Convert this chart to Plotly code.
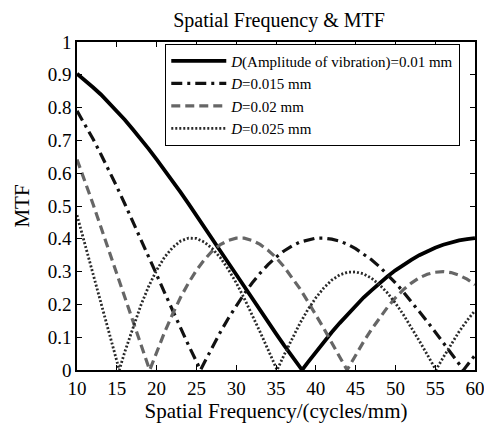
import plotly.graph_objects as go

# Spatial frequency (cycles/mm) and MTF values
f_d010 = [10, 11, 12, 13, 14, 15, 16, 17, 18, 19, 20, 21, 22, 23, 24, 25, 26, 27, 28, 29, 30,
          31, 32, 33, 34, 35, 36, 37, 38, 38.28, 39, 40, 41, 42, 43, 44, 45, 46, 47, 48, 49, 50,
          51, 52, 53, 54, 55, 56, 57, 58, 59, 60]
mtf_d010 = [0.903, 0.884, 0.862, 0.840, 0.815, 0.790, 0.763, 0.734, 0.705, 0.674, 0.642, 0.610,
            0.576, 0.542, 0.507, 0.472, 0.436, 0.400, 0.364, 0.327, 0.291, 0.254, 0.218, 0.182,
            0.146, 0.111, 0.076, 0.042, 0.009, 0.0, 0.023, 0.055, 0.085, 0.115, 0.143, 0.170,
            0.196, 0.221, 0.243, 0.265, 0.285, 0.304, 0.321, 0.336, 0.350, 0.363, 0.373, 0.382,
            0.390, 0.395, 0.399, 0.402]

f_d015 = [10, 11, 12, 13, 14, 15, 16, 17, 18, 19, 20, 21, 22, 23, 24, 25, 25.52, 26, 27, 28, 29,
          30, 31, 32, 33, 34, 35, 36, 37, 38, 39, 40, 41, 42, 43, 44, 45, 46, 47, 48, 49, 50,
          51, 52, 53, 54, 55, 56, 57, 58, 58.57, 59, 60]
mtf_d015 = [0.790, 0.749, 0.705, 0.658, 0.610, 0.559, 0.507, 0.454, 0.400, 0.345, 0.291, 0.236,
            0.182, 0.128, 0.076, 0.026, 0.0, 0.023, 0.070, 0.115, 0.157, 0.196, 0.232, 0.265,
            0.295, 0.321, 0.344, 0.363, 0.378, 0.390, 0.397, 0.402, 0.402, 0.399, 0.393, 0.383,
            0.370, 0.354, 0.336, 0.315, 0.291, 0.266, 0.238, 0.209, 0.179, 0.148, 0.116, 0.083,
            0.051, 0.018, 0.0, 0.014, 0.045]

f_d020 = [10, 11, 12, 13, 14, 15, 16, 17, 18, 19, 19.14, 20, 21, 22, 23, 24, 25, 26, 27, 28, 29,
          30, 31, 32, 33, 34, 35, 36, 37, 38, 39, 40, 41, 42, 43, 43.93, 44, 45, 46, 47, 48, 49,
          50, 51, 52, 53, 54, 55, 56, 57, 58, 59, 60]
mtf_d020 = [0.642, 0.576, 0.507, 0.436, 0.364, 0.291, 0.218, 0.146, 0.076, 0.009, 0.0, 0.055,
            0.115, 0.170, 0.221, 0.265, 0.304, 0.336, 0.363, 0.382, 0.395, 0.402, 0.402, 0.395,
            0.383, 0.365, 0.343, 0.315, 0.283, 0.248, 0.209, 0.169, 0.127, 0.083, 0.040, 0.0,
            0.003, 0.045, 0.086, 0.124, 0.159, 0.191, 0.220, 0.245, 0.265, 0.281, 0.292, 0.298,
            0.300, 0.297, 0.289, 0.277, 0.260]

f_d025 = [10, 11, 12, 13, 14, 15, 15.31, 16, 17, 18, 19, 20, 21, 22, 23, 24, 25, 26, 27, 28, 29,
          30, 31, 32, 33, 34, 35, 35.14, 36, 37, 38, 39, 40, 41, 42, 43, 44, 45, 46, 47, 48, 49,
          50, 51, 52, 53, 54, 55, 55.09, 56, 57, 58, 59, 60]
mtf_d025 = [0.472, 0.382, 0.291, 0.200, 0.111, 0.026, 0.0, 0.055, 0.129, 0.196, 0.255, 0.304,
            0.344, 0.373, 0.393, 0.402, 0.401, 0.390, 0.370, 0.343, 0.307, 0.266, 0.219, 0.169,
            0.116, 0.062, 0.008, 0.0, 0.045, 0.095, 0.142, 0.184, 0.220, 0.250, 0.274, 0.290,
            0.298, 0.299, 0.293, 0.280, 0.260, 0.235, 0.204, 0.169, 0.130, 0.089, 0.047, 0.004,
            0.0, 0.038, 0.079, 0.117, 0.151, 0.181]

names = ["<i>D</i>(Amplitude of vibration)=0.01 mm", "<i>D</i>=0.015 mm",
         "<i>D</i>=0.02 mm", "<i>D</i>=0.025 mm"]
x_ticks = [10, 15, 20, 25, 30, 35, 40, 45, 50, 55, 60]
y_ticks = [0, 0.1, 0.2, 0.3, 0.4, 0.5, 0.6, 0.7, 0.8, 0.9, 1]
y_tick_text = ["0", "0.1", "0.2", "0.3", "0.4", "0.5", "0.6", "0.7", "0.8", "0.9", "1"]

FONT = "Liberation Serif, Times New Roman, serif"

fig = go.Figure()
fig.add_trace(go.Scatter(x=f_d010, y=mtf_d010, mode="lines", name=names[0],
                         line=dict(color="#000000", width=3.8)))
fig.add_trace(go.Scatter(x=f_d015, y=mtf_d015, mode="lines", name=names[1],
                         line=dict(color="#111111", width=3.2, dash="11px,5px,3px,5px")))
fig.add_trace(go.Scatter(x=f_d020, y=mtf_d020, mode="lines", name=names[2],
                         line=dict(color="#666666", width=3.2, dash="9px,5px")))
fig.add_trace(go.Scatter(x=f_d025, y=mtf_d025, mode="lines", name=names[3],
                         line=dict(color="#2a2a2a", width=2.8, dash="2px,2px")))

axis_common = dict(showgrid=False, zeroline=False, showline=True, linecolor="black",
                   linewidth=1.6, mirror="ticks", ticks="inside", ticklen=5,
                   tickcolor="black", automargin=False,
                   tickfont=dict(family=FONT, size=19, color="black"))

fig.update_xaxes(range=[10, 60], tickvals=x_ticks,
                 title=dict(text="Spatial Frequency/(cycles/mm)",
                            font=dict(family=FONT, size=21, color="black"), standoff=2),
                 **axis_common)
fig.update_yaxes(range=[0, 1], tickvals=y_ticks, ticktext=y_tick_text,
                 title=dict(text="MTF", font=dict(family=FONT, size=21, color="black"),
                            standoff=12),
                 **axis_common)

fig.update_layout(
    width=484, height=419,
    margin=dict(l=69, r=17, t=34, b=57),
    paper_bgcolor="white", plot_bgcolor="white",
    title=dict(text="Spatial Frequency & MTF", x=0.56, xanchor="center", y=0.971,
               yanchor="middle", font=dict(family=FONT, size=20, color="black")),
    legend=dict(x=0.963, y=0.995, xanchor="right", yanchor="top",
                bgcolor="white", bordercolor="black", borderwidth=1,
                font=dict(family=FONT, size=15, color="black"),
                tracegroupgap=0, itemwidth=55),
    showlegend=True,
)

fig.write_html("out.html")
